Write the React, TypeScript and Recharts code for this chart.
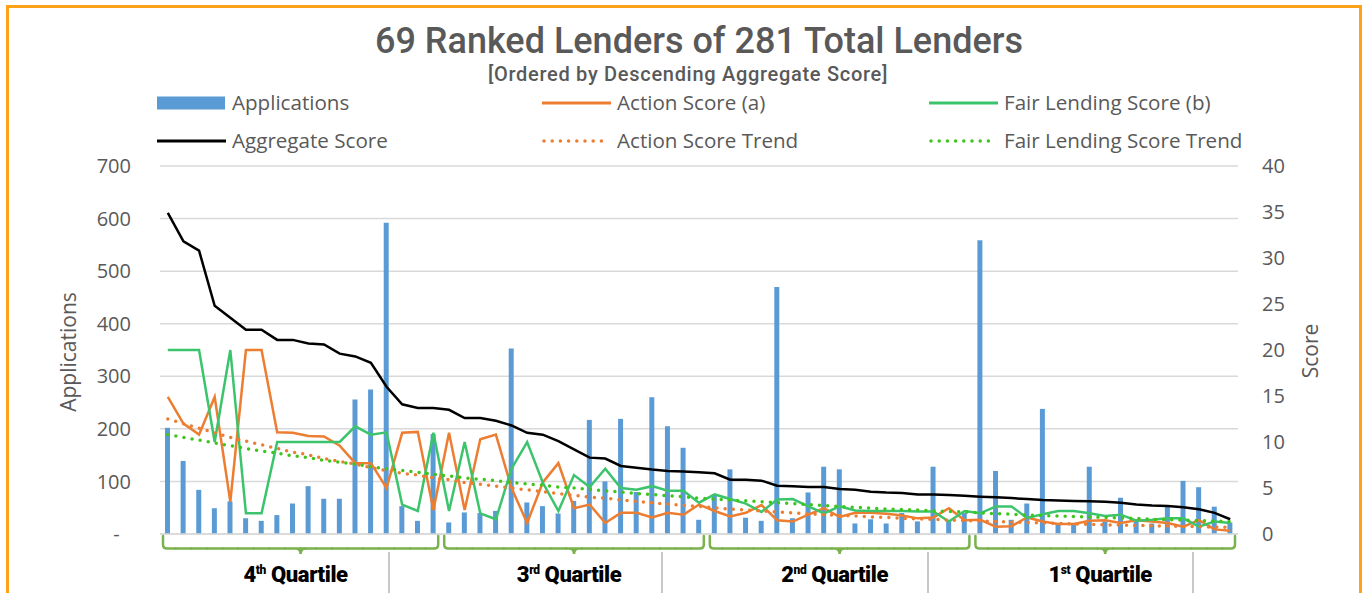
import { Bar, CartesianGrid, ComposedChart, Line, XAxis, YAxis } from "recharts";

// applications per ranked lender (left axis)
const applications = [
  202, 139, 84, 49, 62, 30, 25, 36, 58, 91, 67, 67, 256, 275, 592, 53, 25, 190,
  22, 41, 40, 44, 353, 60, 53, 39, 63, 217, 100, 219, 80, 260, 205, 164, 27,
  75, 123, 31, 25, 470, 30, 79, 128, 123, 20, 28, 20, 40, 24, 128, 27, 40,
  559, 120, 27, 58, 238, 20, 20, 128, 24, 69, 24, 20, 54, 101, 89, 52, 22,
];

const actionScore = [
  14.9, 12.0, 10.8, 14.9, 3.5, 20.0, 20.0, 11.05, 11.0, 10.65, 10.6, 9.6, 7.7, 7.7, 5.0, 11.0, 11.1, 2.6,
  11.0, 2.6, 10.3, 10.8, 5.0, 1.2, 5.6, 7.7, 2.8, 3.2, 1.2, 2.3, 2.3, 1.8, 2.3, 2.1, 3.2,
  2.5, 1.9, 2.3, 3.15, 1.5, 1.35, 2.1, 2.8, 1.85, 2.3, 2.3, 2.2, 2.0, 1.7, 1.8, 2.8, 1.5,
  1.55, 0.8, 0.85, 1.8, 1.35, 1.1, 1.1, 1.45, 1.5, 1.2, 1.5, 1.35, 1.2, 0.8, 1.5, 0.5, 0.35,
];

const fairLendingScore = [
  20, 20, 20, 10.0, 20, 2.25, 2.25, 10, 10, 10, 10, 10, 11.7, 10.8, 11.05, 3.2, 2.5, 11.0,
  2.5, 10.0, 2.25, 1.6, 7.1, 10.0, 5.6, 2.5, 6.4, 5.1, 7.1, 5.0, 4.8, 5.2, 4.7, 4.7, 3.4,
  4.3, 3.8, 3.3, 2.4, 3.75, 3.8, 3.0, 2.25, 3.0, 2.55, 2.5, 2.5, 2.5, 2.45, 2.45, 1.35, 2.5,
  2.25, 3.0, 3.0, 1.75, 2.15, 2.5, 2.5, 2.25, 1.95, 2.1, 1.45, 1.55, 1.7, 1.7, 0.8, 1.35, 1.2,
];

const aggregateScore = [
  34.9, 31.8, 30.8, 24.8, 23.5, 22.2, 22.2, 21.1, 21.1, 20.7, 20.6, 19.6, 19.3, 18.6, 16.0, 14.1, 13.7, 13.7,
  13.5, 12.6, 12.6, 12.3, 11.8, 11.0, 10.8, 10.1, 9.2, 8.3, 8.2, 7.4, 7.2, 7.0, 6.85, 6.8, 6.7,
  6.6, 5.9, 5.9, 5.8, 5.25, 5.2, 5.1, 5.1, 4.9, 4.8, 4.6, 4.5, 4.45, 4.3, 4.3, 4.25, 4.15,
  4.06, 4.0, 3.9, 3.8, 3.7, 3.65, 3.6, 3.55, 3.5, 3.4, 3.2, 3.1, 3.05, 2.9, 2.7, 2.3, 1.6,
];

const actionTrend = [
  12.5, 12.0, 11.5, 11.0, 10.5, 10.1, 9.7, 9.3, 8.9, 8.6, 8.2, 7.9, 7.6, 7.2, 6.9, 6.6, 6.4, 6.1,
  5.9, 5.6, 5.4, 5.2, 5.0, 4.8, 4.6, 4.4, 4.2, 4.0, 3.9, 3.7, 3.55, 3.4, 3.25, 3.1, 3.0,
  2.85, 2.7, 2.6, 2.5, 2.4, 2.3, 2.2, 2.1, 2.0, 1.95, 1.85, 1.8, 1.7, 1.65, 1.6, 1.5, 1.45,
  1.4, 1.35, 1.3, 1.25, 1.2, 1.15, 1.1, 1.05, 1.0, 0.97, 0.93, 0.9, 0.86, 0.82, 0.79, 0.76, 0.72,
];

const fairLendingTrend = [
  10.8, 10.5, 10.2, 9.9, 9.6, 9.3, 9.0, 8.8, 8.5, 8.3, 8.0, 7.8, 7.6, 7.3, 7.1, 6.9, 6.7, 6.5,
  6.3, 6.1, 5.95, 5.8, 5.6, 5.45, 5.3, 5.1, 5.0, 4.85, 4.7, 4.55, 4.4, 4.3, 4.15, 4.05, 3.9,
  3.8, 3.7, 3.6, 3.5, 3.4, 3.3, 3.2, 3.1, 3.0, 2.9, 2.8, 2.7, 2.65, 2.6, 2.5, 2.45, 2.4,
  2.3, 2.2, 2.15, 2.05, 2.0, 1.95, 1.9, 1.85, 1.8, 1.75, 1.7, 1.6, 1.55, 1.5, 1.45, 1.4, 1.35,
];

const leftTicks = [0, 100, 200, 300, 400, 500, 600, 700];
const rightTicks = [0, 5, 10, 15, 20, 25, 30, 35, 40];

const quartiles = [
  { num: "4", sup: "th", from: 0, to: 17 },
  { num: "3", sup: "rd", from: 18, to: 34 },
  { num: "2", sup: "nd", from: 35, to: 51 },
  { num: "1", sup: "st", from: 52, to: 68 },
];

const data = applications.map((a, i) => ({
  name: `Lender ${i + 1}`,
  applications: a,
  action: actionScore[i],
  fair: fairLendingScore[i],
  aggregate: aggregateScore[i],
  actionTrend: actionTrend[i],
  fairTrend: fairLendingTrend[i],
}));

const PLOT_LEFT = 160;
const PLOT_WIDTH = 1078;
const STEP = PLOT_WIDTH / data.length;
const GREY = "#595959";
const BRACE = "#7AB24E";

// draws one lender's slice of the quartile brace under the axis
function BraceTick(props: any) {
  const { x, y, index } = props;
  const q = quartiles.find((g) => index >= g.from && index <= g.to);
  if (!q) return <g />;
  const hy = y + 14.5;
  let left = x - STEP / 2;
  let right = x + STEP / 2;
  const parts: string[] = [];
  if (index === q.from) {
    left += 3;
    parts.push(`M${left} ${y + 2} L${left} ${hy - 4} Q${left} ${hy} ${left + 4} ${hy}`);
    left += 4;
  }
  if (index === q.to) {
    right -= 3;
    parts.push(`M${right - 4} ${hy} Q${right} ${hy} ${right} ${hy - 4} L${right} ${y + 2}`);
    right -= 4;
  }
  parts.push(`M${left} ${hy} L${right} ${hy}`);
  const c = (q.from + q.to) / 2;
  let cx: number | null = null;
  if (Number.isInteger(c) && c === index) cx = x;
  if (!Number.isInteger(c) && Math.floor(c) === index) cx = x + STEP / 2;
  if (cx !== null) {
    parts.push(`M${cx - 5} ${hy} Q${cx} ${hy} ${cx} ${hy + 5.5} Q${cx} ${hy} ${cx + 5} ${hy}`);
  }
  return (
    <path d={parts.join(" ")} fill="none" stroke={BRACE} strokeWidth={2.5} strokeLinecap="round" />
  );
}

function LegendRow() {
  const items = [
    { x: 157, y: 103, label: "Applications", kind: "bar", color: "#5B9BD5" },
    { x: 542, y: 103, label: "Action Score (a)", kind: "line", color: "#ED7D31" },
    { x: 929, y: 103, label: "Fair Lending Score (b)", kind: "line", color: "#3CC46C" },
    { x: 157, y: 141, label: "Aggregate Score", kind: "line", color: "#000000" },
    { x: 542, y: 141, label: "Action Score Trend", kind: "dot", color: "#ED7D31" },
    { x: 929, y: 141, label: "Fair Lending Score Trend", kind: "dot", color: "#3FC41C" },
  ];
  return (
    <svg width={1368} height={170} style={{ position: "absolute", left: 0, top: 0 }}>
      {items.map((it) => (
        <g key={it.label}>
          {it.kind === "bar" && (
            <rect x={it.x} y={it.y - 6.5} width={68} height={13} fill={it.color} />
          )}
          {it.kind === "line" && (
            <line x1={it.x} x2={it.x + 69} y1={it.y} y2={it.y} stroke={it.color} strokeWidth={3} />
          )}
          {it.kind === "dot" && (
            <line x1={it.x + 2} x2={it.x + 67} y1={it.y} y2={it.y} stroke={it.color}
                  strokeWidth={3.5} strokeDasharray="0 8.2" strokeLinecap="round" />
          )}
          <text x={it.x + 75} y={it.y + 7} fontSize={20.6} fill={GREY}
                fontFamily="'Open Sans', sans-serif">
            {it.label}
          </text>
        </g>
      ))}
    </svg>
  );
}

export default function App() {
  const labelCenters = quartiles.map((q) => PLOT_LEFT + STEP * (q.from + q.to + 1) / 2 - 5);
  return (
    <div style={{
      position: "absolute", left: 0, top: 0, width: 1368, height: 593,
      overflow: "hidden", background: "#fff", fontFamily: "'Open Sans', sans-serif",
    }}>
      <div style={{
        position: "absolute", left: 6, top: 5, width: 1356, height: 640,
        border: "3px solid #FFA21A", boxSizing: "border-box",
      }} />
      <div style={{
        position: "absolute", left: 0, width: 1398, top: 20, textAlign: "center",
        fontFamily: "Roboto, sans-serif", fontWeight: 500, fontSize: 36, color: GREY,
        lineHeight: "42px",
      }}>
        69 Ranked Lenders of 281 Total Lenders
      </div>
      <div style={{
        position: "absolute", left: 0, width: 1376, top: 62, textAlign: "center",
        fontFamily: "Roboto, sans-serif", fontWeight: 500, fontSize: 20, color: GREY,
        letterSpacing: 0.7, lineHeight: "24px",
      }}>
        [Ordered by Descending Aggregate Score]
      </div>
      <LegendRow />
      <ComposedChart
        width={1368} height={593} data={data}
        margin={{ top: 166, right: 0, bottom: 0, left: 0 }}
        style={{ position: "absolute", left: 0, top: 0 }}
      >
        <CartesianGrid vertical={false} yAxisId="left" stroke="#D9D9D9" strokeWidth={1.5} />
        <XAxis dataKey="name" height={59} interval={0} tickSize={0} tickMargin={0}
               tickLine={false} axisLine={{ stroke: "#D9D9D9", strokeWidth: 1.5 }}
               tick={(p: any) => <BraceTick {...p} />} />
        <YAxis yAxisId="left" width={160} domain={[0, 700]} ticks={leftTicks}
               tickLine={false} axisLine={false} tickSize={0} tickMargin={29}
               tick={{ fill: GREY, fontSize: 20 }}
               tickFormatter={(v: number) => (v === 0 ? "-\u2007" : String(v))} />
        <YAxis yAxisId="right" orientation="right" width={130} domain={[0, 40]} ticks={rightTicks}
               tickLine={false} axisLine={false} tickSize={0} tickMargin={24}
               tick={{ fill: GREY, fontSize: 20, textAnchor: "start" }} />
        <Bar yAxisId="left" dataKey="applications" fill="#5B9BD5" barSize={5}
             isAnimationActive={false} />
        <Line yAxisId="right" dataKey="action" stroke="#ED7D31" strokeWidth={2.5}
              dot={false} isAnimationActive={false} />
        <Line yAxisId="right" dataKey="fair" stroke="#3CC46C" strokeWidth={2.5}
              dot={false} isAnimationActive={false} />
        <Line yAxisId="right" dataKey="aggregate" stroke="#000000" strokeWidth={2.5}
              dot={false} isAnimationActive={false} />
        <Line yAxisId="right" dataKey="actionTrend" stroke="#ED7D31" strokeWidth={3.5}
              strokeDasharray="0 8.2" strokeLinecap="round" dot={false} isAnimationActive={false} />
        <Line yAxisId="right" dataKey="fairTrend" stroke="#3FC41C" strokeWidth={3.5}
              strokeDasharray="0 8.2" strokeLinecap="round" dot={false} isAnimationActive={false} />
      </ComposedChart>
      <div style={{
        position: "absolute", left: 68, top: 352, transform: "translate(-50%, -50%) rotate(-90deg)",
        fontSize: 21, color: GREY, whiteSpace: "nowrap",
      }}>
        Applications
      </div>
      <div style={{
        position: "absolute", left: 1310, top: 351, transform: "translate(-50%, -50%) rotate(-90deg)",
        fontSize: 21, color: GREY, whiteSpace: "nowrap",
      }}>
        Score
      </div>
      {quartiles.map((q, i) => (
        <div key={q.num}>
          <div style={{
            position: "absolute", left: labelCenters[i], top: 574,
            transform: "translate(-50%, -50%)", whiteSpace: "nowrap",
            fontFamily: "Roboto, sans-serif", fontWeight: 900, fontSize: 22, color: "#000",
            letterSpacing: -0.4,
          }}>
            {q.num}
            <sup style={{ fontSize: 12, verticalAlign: "8px" }}>{q.sup}</sup> Quartile
          </div>
          <div style={{
            position: "absolute", left: labelCenters[i] + 92, top: 552, width: 2, height: 45,
            background: "#C8C8C8",
          }} />
        </div>
      ))}
    </div>
  );
}
